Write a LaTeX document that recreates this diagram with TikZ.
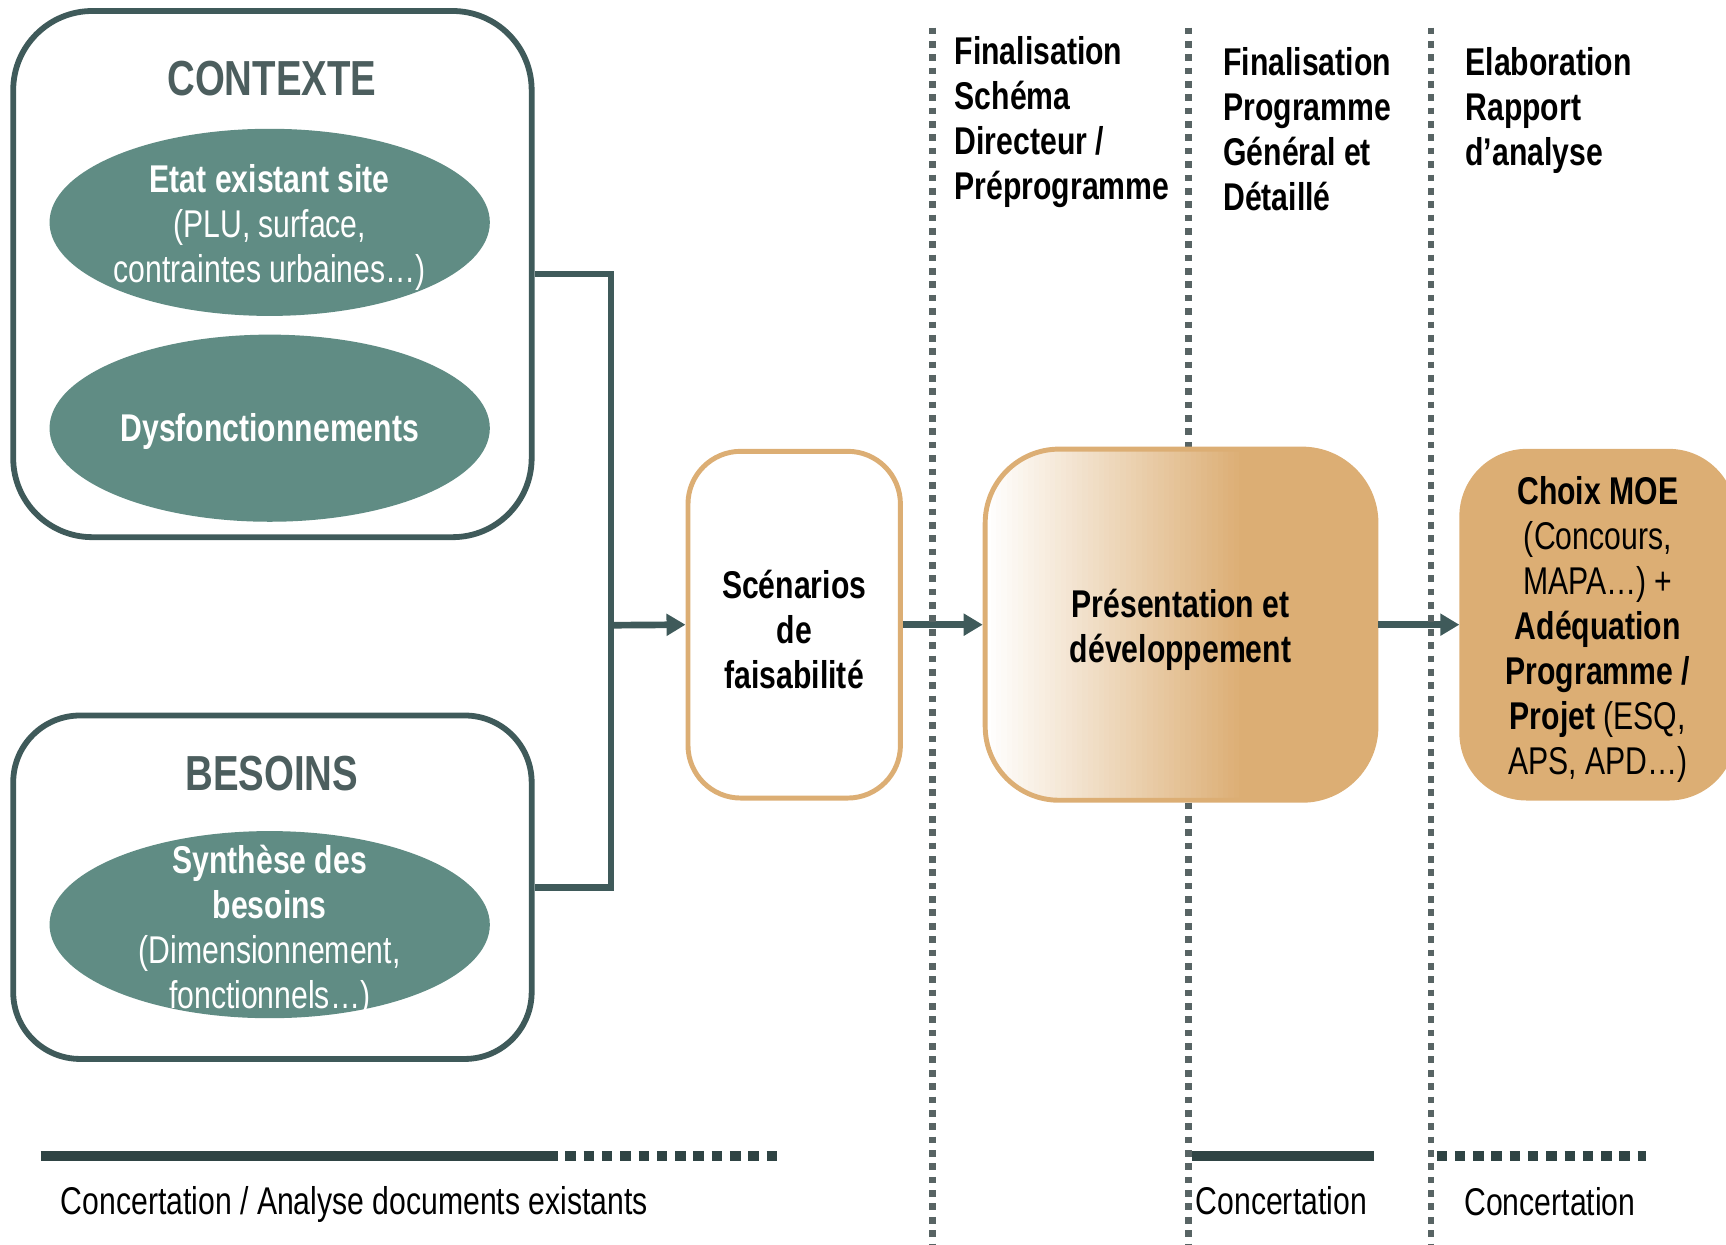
\documentclass[tikz,border=0pt]{standalone}
\usepackage{fontspec}
\setmainfont[FakeStretch=0.78]{Liberation Sans}
\usepackage{tikz}
\usetikzlibrary{shapes.geometric,arrows.meta}

\definecolor{ardoise}{RGB}{63,90,90}
\definecolor{titregris}{RGB}{76,94,94}
\definecolor{sarcelle}{RGB}{96,140,132}
\definecolor{sable}{RGB}{220,174,116}
\definecolor{pointgris}{RGB}{88,100,100}
\definecolor{barrefonce}{RGB}{47,68,68}
\newcommand{\pxu}{0.022cm}
\newcommand{\corps}{\fontsize{22}{25.6}\selectfont}

\begin{document}
\begin{tikzpicture}[x=0.022cm, y=-0.022cm,
    cadre/.style={draw=ardoise, line width=3.3pt, fill=white, inner sep=0},
    bulle/.style={ellipse, fill=sarcelle, minimum width=400*\pxu, minimum height=170*\pxu, inner sep=0},
    bulletexte/.style={text=white, align=center, font=\corps, inner sep=0},
    titre/.style={font=\fontsize{28}{32}\selectfont\bfseries, text=titregris, inner sep=0},
    etape/.style={draw=sable, line width=2.8pt, align=center, font=\corps\bfseries, inner sep=0},
    fleche/.style={draw=ardoise, line width=3.8pt, -{Triangle[length=10.8pt,width=12pt]}},
    lien/.style={draw=ardoise, line width=3.8pt},
    jalon/.style={draw=pointgris, line width=3.9pt, dash pattern=on 3.8pt off 3.8pt},
    phase/.style={anchor=west, align=left, font=\corps\bfseries, inner sep=0},
    barre/.style={draw=barrefonce, line width=5.4pt},
    pointille/.style={dash pattern=on 6pt off 4.4pt},
    note/.style={anchor=west, font=\corps, inner sep=0}]
    \useasboundingbox (0,0) rectangle (1568,1131);
    \clip (0,0) rectangle (1568,1131);

    % jalon cache par la boite centrale
    \draw[jalon] (1080,25) -- (1080,1131);

    % contexte
    \node[cadre, minimum width=471*\pxu, minimum height=478*\pxu, rounded corners=45pt] (contexte) at (247.5,249) {};
    \node[titre] (tcontexte) at (247,71) {CONTEXTE};
    \node[bulle] (etat) at (245,202) {};
    \node[bulletexte] (tetat) at (245,207) {\textbf{Etat existant site}\\(PLU, surface,\\contraintes urbaines…)};
    \node[bulle] (dysf) at (245,389) {};
    \node[bulletexte, font=\corps\bfseries] (tdysf) at (245,392) {Dysfonctionnements};

    % besoins
    \node[cadre, minimum width=471*\pxu, minimum height=312*\pxu, rounded corners=38pt] (besoins) at (247.5,806) {};
    \node[titre] (tbesoins) at (247,703) {BESOINS};
    \node[bulle] (synth) at (245,840) {};
    \node[bulletexte] (tsynth) at (245,846) {\textbf{Synthèse des}\\\textbf{besoins}\\(Dimensionnement,\\fonctionnels…)};

    % etapes
    \node[etape, fill=white, minimum width=193*\pxu, minimum height=315*\pxu, rounded corners=30pt] (scen) at (721.5,567.5) {};
    \node[etape, draw=none] (tscen) at (721.5,572) {Scénarios\\de\\faisabilité};
    \node[etape, fill=sable, minimum width=355*\pxu, minimum height=319*\pxu, rounded corners=42pt,
        path picture={
            \foreach \i in {0,...,47} {
                \pgfmathsetmacro\pc{\i*100/47}
                \fill[sharp corners, sable!\pc!white] ([xshift=\i*0.108cm]path picture bounding box.south west) rectangle ([xshift=\i*0.108cm+0.12cm]path picture bounding box.north west);
            }}] (pres) at (1072.5,567.5) {};
    \node[etape, draw=none] (tpres) at (1072.5,572) {Présentation et\\développement};
    \node[etape, fill=sable, minimum width=247*\pxu, minimum height=315*\pxu, rounded corners=37pt] (choix) at (1451.5,567.5) {};
    \node[etape, draw=none, font=\corps] (tchoix) at (1451.5,572) {\textbf{Choix MOE}\\(Concours,\\MAPA…) +\\\textbf{Adéquation}\\\textbf{Programme /}\\\textbf{Projet} (ESQ,\\APS, APD…)};

    % liaisons
    \coordinate (noeud) at (555,568);
    \draw[lien] (contexte.east) -| (noeud) |- (besoins.east);
    \draw[fleche] (noeud) -- (scen.west);
    \draw[fleche] (scen.east) -- (pres.west);
    \draw[fleche] (pres.east) -- (choix.west);

    % jalons
    \draw[jalon] (847,25) -- (847,1131);
    \draw[jalon] (1300,25) -- (1300,1131);

    \node[phase] (ph1) at (867,110.5) {Finalisation\\Schéma\\Directeur /\\Préprogramme};
    \node[phase] (ph2) at (1111,117) {Finalisation\\Programme\\Général et\\Détaillé};
    \node[phase] (ph3) at (1331,100) {Elaboration\\Rapport\\d’analyse};

    % concertation
    \draw[barre] (37,1050) -- (497,1050);
    \draw[barre, pointille] (497,1050) -- (710,1050);
    \draw[barre] (1083,1050) -- (1248,1050);
    \draw[barre, pointille] (1305,1050) -- (1495,1050);

    \node[note] (c1) at (55,1094) {Concertation / Analyse documents existants};
    \node[note] (c2) at (1086,1091) {Concertation};
    \node[note] (c3) at (1330,1092) {Concertation};
\end{tikzpicture}
\end{document}
